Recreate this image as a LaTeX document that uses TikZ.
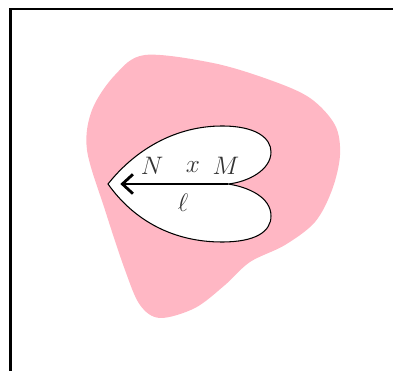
\documentclass[tikz,border=0pt]{standalone}
\usepackage{tikz}
\usetikzlibrary{arrows.meta}
\usepackage{amsmath,amssymb}
\definecolor{blobcol}{RGB}{255,183,196}

\begin{document}
\begin{tikzpicture}[x=0.02cm, y=-0.02cm, font=\fontsize{15.5}{18}\selectfont,
    lbl/.style={inner sep=0pt, text=black!80}]
\useasboundingbox (0,0) rectangle (393,371);
\clip (0,0) rectangle (393,371);
\draw[line width=1.7pt] (10.5,9) rectangle (420,400);
\fill[blobcol] plot[smooth cycle, tension=0.55] coordinates {
  (145,55) (213,63) (270,80) (310,98) (335,125) (340,155) (332,190) (315,222)
  (285,245) (250,262) (225,285) (195,308) (160,318) (140,305) (125,270)
  (105,210) (87,150) (92,110) (115,75)};
\coordinate (tip) at (108,184);
\coordinate (cusp) at (228,184);
\draw[fill=white, line width=0.6pt] (tip) .. controls (135,150) and (175,126) .. (222,126)
  .. controls (256,126) and (271,138) .. (271,152)
  .. controls (271,170) and (248,182) .. (cusp)
  .. controls (248,187) and (271,197) .. (271,216)
  .. controls (271,232) and (255,242) .. (222,242)
  .. controls (175,242) and (135,222) .. (tip) -- cycle;
\node[lbl] (N) at (152,166) {$N$};
\node[lbl] (x) at (193,167) {$x$};
\node[lbl] (M) at (226,166) {$M$};
\node[lbl] (ell) at (183,203) {$\ell$};
\draw[line width=1.6pt, -{Straight Barb[length=6pt, width=11pt]}, shorten >=7pt] (cusp) -- (tip);
\end{tikzpicture}
\end{document}
